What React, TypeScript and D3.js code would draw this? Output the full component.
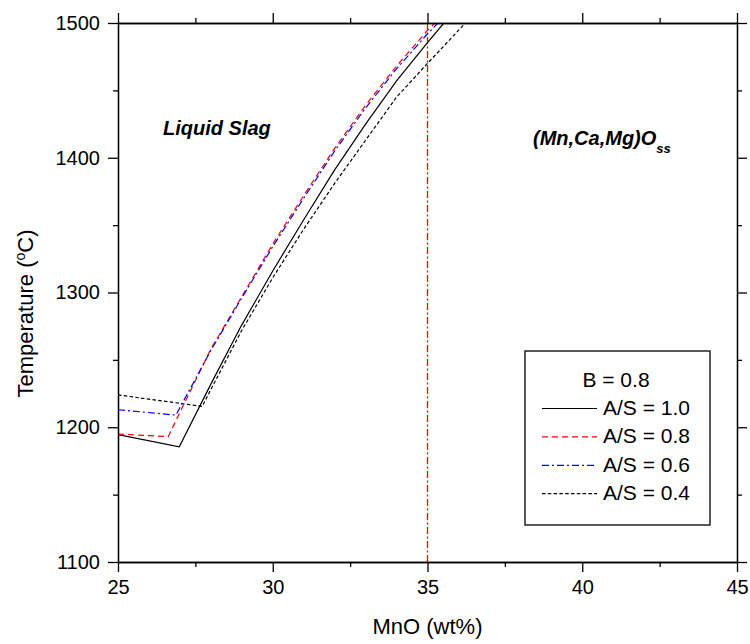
import { useEffect, useRef } from 'react';
import * as d3 from 'd3';

// MnO (wt%) vs liquidus temperature (C), B = 0.8
const AS10 = [
    [25, 1194.5], [26.98, 1185.5], [28, 1232], [29, 1276], [30, 1316], [31, 1354],
    [32, 1391], [33, 1425], [34, 1457], [35, 1485.5], [35.53, 1500],
];
const AS08 = [
    [25, 1195], [26.62, 1193], [27, 1211], [28, 1258], [29, 1297], [30, 1336],
    [31, 1372], [32, 1407], [33, 1439], [34, 1468], [35, 1494.5], [35.24, 1500],
];
const AS06 = [
    [25, 1213], [26.87, 1209], [27, 1214.5], [28, 1257], [29, 1296], [30, 1334],
    [31, 1370], [32, 1405], [33, 1437], [34, 1466], [35, 1492], [35.34, 1500],
];
const AS04 = [
    [25, 1224], [27.72, 1215.5], [28, 1228], [29, 1272], [30, 1311], [31, 1347],
    [32, 1381], [33, 1413], [34, 1445], [35, 1470], [36, 1494.5], [36.23, 1500],
];

const SERIES = [
    { label: 'A/S = 1.0', data: AS10, color: '#000000', dash: null },
    { label: 'A/S = 0.8', data: AS08, color: '#ff0000', dash: '6,4' },
    { label: 'A/S = 0.6', data: AS06, color: '#0000ff', dash: '7,3,2,3' },
    { label: 'A/S = 0.4', data: AS04, color: '#000000', dash: '3.5,2.3' },
];

const X_TICKS = [25, 30, 35, 40, 45];
const X_MINOR = [27.5, 32.5, 37.5, 42.5];
const Y_TICKS = [1100, 1200, 1300, 1400, 1500];
const Y_MINOR = [1150, 1250, 1350, 1450];
const MNO_LIMIT = 35;

const FONT = '"Liberation Sans", Arial, sans-serif';

const App = () => {
    const svgRef = useRef(null);

    useEffect(() => {
        const svg = d3.select(svgRef.current);
        svg.selectAll('*').remove();

        const left = 118;
        const right = 737;
        const top = 23;
        const bottom = 562;

        const x = d3.scaleLinear().domain([25, 45]).range([left, right]);
        const y = d3.scaleLinear().domain([1100, 1500]).range([bottom, top]);

        svg.append('defs')
            .append('clipPath')
            .attr('id', 'plot-clip')
            .append('rect')
            .attr('x', left)
            .attr('y', top)
            .attr('width', right - left)
            .attr('height', bottom - top);

        // vertical limit line
        svg.append('line')
            .attr('x1', x(MNO_LIMIT))
            .attr('x2', x(MNO_LIMIT))
            .attr('y1', top)
            .attr('y2', bottom)
            .attr('stroke', '#ff0000')
            .attr('stroke-width', 1.3)
            .attr('stroke-dasharray', '7,2.5,2,2.5');

        // curves
        const line = d3
            .line()
            .x((d) => x(d[0]))
            .y((d) => y(d[1]));

        SERIES.forEach((s) => {
            svg.append('path')
                .datum(s.data)
                .attr('clip-path', 'url(#plot-clip)')
                .attr('fill', 'none')
                .attr('stroke', s.color)
                .attr('stroke-width', 1.2)
                .attr('stroke-dasharray', s.dash)
                .attr('d', line);
        });

        // axes
        const styleAxis = (g) => {
            g.selectAll('path').attr('stroke', '#000').attr('stroke-width', 1.3);
            g.selectAll('line').attr('stroke', '#000').attr('stroke-width', 1.3);
            g.selectAll('text').attr('font-family', FONT).attr('font-size', 20).attr('fill', '#000');
        };

        const addAxis = (axisFn, scale, values, minor, transform, labels) => {
            svg.append('g')
                .attr('transform', transform)
                .call(axisFn(scale).tickValues(minor).tickSize(5).tickSizeOuter(0).tickFormat(() => ''))
                .call(styleAxis);
            svg.append('g')
                .attr('transform', transform)
                .call(
                    axisFn(scale)
                        .tickValues(values)
                        .tickSize(10)
                        .tickSizeOuter(0)
                        .tickPadding(8)
                        .tickFormat(labels ? d3.format('d') : () => '')
                )
                .call(styleAxis);
        };

        addAxis(d3.axisBottom, x, X_TICKS, X_MINOR, `translate(0,${bottom})`, true);
        addAxis(d3.axisTop, x, X_TICKS, X_MINOR, `translate(0,${top})`, false);
        addAxis(d3.axisLeft, y, Y_TICKS, Y_MINOR, `translate(${left},0)`, true);
        addAxis(d3.axisRight, y, Y_TICKS, Y_MINOR, `translate(${right},0)`, false);

        // axis titles
        svg.append('text')
            .attr('x', (left + right) / 2)
            .attr('y', 634)
            .attr('text-anchor', 'middle')
            .attr('font-family', FONT)
            .attr('font-size', 22)
            .text('MnO (wt%)');

        const yt = svg
            .append('text')
            .attr('transform', `translate(33,${(top + bottom) / 2 + 21}) rotate(-90)`)
            .attr('text-anchor', 'middle')
            .attr('font-family', FONT)
            .attr('font-size', 22);
        yt.append('tspan').text('Temperature (');
        yt.append('tspan').attr('dy', -8).attr('font-size', 14).text('o');
        yt.append('tspan').attr('dy', 8).text('C)');

        // region labels
        svg.append('text')
            .attr('x', 163)
            .attr('y', 135)
            .attr('font-family', FONT)
            .attr('font-size', 20)
            .attr('font-weight', 'bold')
            .attr('font-style', 'italic')
            .text('Liquid Slag');

        const ox = svg
            .append('text')
            .attr('x', 533)
            .attr('y', 145)
            .attr('font-family', FONT)
            .attr('font-size', 20)
            .attr('font-weight', 'bold')
            .attr('font-style', 'italic');
        ox.append('tspan').text('(Mn,Ca,Mg)O');
        ox.append('tspan').attr('dy', 8).attr('font-size', 13).text('ss');

        // legend
        const lg = svg.append('g');
        lg.append('rect')
            .attr('x', 525)
            .attr('y', 351)
            .attr('width', 185)
            .attr('height', 174)
            .attr('fill', '#fff')
            .attr('stroke', '#000')
            .attr('stroke-width', 1.3);
        lg.append('text')
            .attr('x', 616)
            .attr('y', 387)
            .attr('text-anchor', 'middle')
            .attr('font-family', FONT)
            .attr('font-size', 21)
            .text('B = 0.8');

        SERIES.forEach((s, i) => {
            const base = 415 + i * 28.4;
            lg.append('line')
                .attr('x1', 542)
                .attr('x2', 597)
                .attr('y1', base - 6.5)
                .attr('y2', base - 6.5)
                .attr('stroke', s.color)
                .attr('stroke-width', 1.2)
                .attr('stroke-dasharray', s.dash);
            lg.append('text')
                .attr('x', 603)
                .attr('y', base)
                .attr('font-family', FONT)
                .attr('font-size', 21)
                .text(s.label);
        });
    }, []);

    return (
        <svg
            ref={svgRef}
            width={750}
            height={644}
            style={{ position: 'absolute', left: 0, top: 0, background: '#fff' }}
        ></svg>
    );
};

export default App;
